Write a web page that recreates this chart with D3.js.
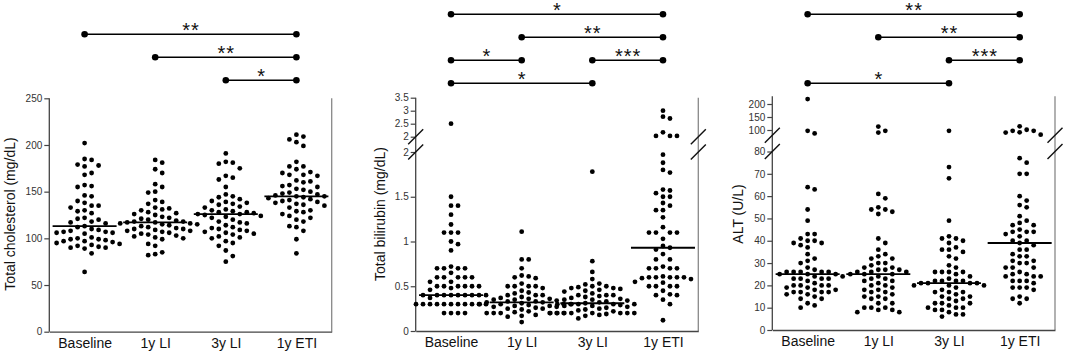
<!DOCTYPE html>
<html>
<head>
<meta charset="utf-8">
<script src="https://cdn.jsdelivr.net/npm/d3@7"></script>
<style>
  body { margin: 0; background: #fff; }
  svg { display: block; font-family: "Liberation Sans", Arial, sans-serif; }
</style>
</head>
<body>
<svg id="drawing_region"></svg>
<script>
// categories shared by all three panels
const categories = ["Baseline", "1y LI", "3y LI", "1y ETI"];

// Total cholesterol (mg/dL)
const cholBaseline = [202,185,184,179,178,177,170,168,157,156,155,146,145,140,138,135,135,133,130,129,127,122,121,120,118,117,116,113,112,110,109,108,107,107,106,106,105,101,100,99,99,98,97,97,96,95,94,93,92,91,90,90,89,84,64];
const cholLI1 = [184,181,174,170,158,155,150,149,141,139,137,133,132,131,130,128,127,126,125,123,122,121,120,119,118,118,117,117,116,116,115,115,114,113,112,111,110,110,109,108,108,107,106,105,104,103,102,101,100,99,94,92,85,83,82];
const cholLI3 = [191,182,181,180,175,167,165,163,155,147,145,144,142,140,139,138,137,136,134,133,131,130,129,128,128,127,126,126,125,124,123,122,120,118,117,116,114,112,111,110,109,108,107,106,105,104,102,101,100,97,95,92,87,81,75];
const cholETI = [211,209,206,203,199,182,177,177,174,171,170,168,168,167,162,161,160,157,156,155,153,152,150,149,148,147,146,145,145,144,143,142,141,140,139,138,137,136,135,133,130,129,128,126,124,122,120,118,113,112,108,99,84];
const cholMedians = [113, 117, 126, 145];
const cholTicks = [0, 50, 100, 150, 200, 250];
const cholBrackets = [
  ["Baseline", "1y ETI", "**", 0],
  ["1y LI", "1y ETI", "**", 1],
  ["3y LI", "1y ETI", "*", 2]
];

// Total bilirubin (mg/dL)
const biliBaseline = [2.5,1.5,1.4,1.4,1.3,1.19,1.1,1.1,1.1,1.0,0.97,0.9,0.72,0.7,0.7,0.7,0.7,0.65,0.6,0.6,0.6,0.6,0.6,0.55,0.55,0.5,0.5,0.5,0.5,0.5,0.5,0.48,0.46,0.4,0.4,0.4,0.4,0.4,0.4,0.4,0.4,0.4,0.37,0.3,0.3,0.3,0.3,0.3,0.3,0.3,0.3,0.3,0.3,0.3,0.2,0.2,0.2,0.2];
const biliLI1 = [1.11,0.8,0.8,0.7,0.62,0.61,0.6,0.59,0.53,0.5,0.5,0.5,0.5,0.48,0.45,0.43,0.42,0.4,0.4,0.4,0.38,0.37,0.36,0.36,0.35,0.35,0.34,0.33,0.33,0.32,0.32,0.31,0.3,0.3,0.3,0.3,0.29,0.28,0.28,0.27,0.27,0.26,0.25,0.25,0.24,0.22,0.21,0.2,0.2,0.2,0.2,0.2,0.2,0.18,0.17,0.16,0.1];
const biliLI3 = [1.78,0.78,0.66,0.58,0.53,0.52,0.5,0.5,0.49,0.48,0.48,0.47,0.46,0.45,0.44,0.42,0.4,0.4,0.4,0.39,0.38,0.37,0.36,0.35,0.35,0.34,0.33,0.32,0.31,0.3,0.3,0.3,0.3,0.3,0.29,0.28,0.28,0.27,0.26,0.25,0.24,0.23,0.22,0.2,0.2,0.2,0.2,0.2,0.2,0.2,0.2,0.19,0.18,0.17,0.14];
const biliETI = [3.0,2.77,2.7,2.17,2.03,2.03,2.03,1.97,1.88,1.8,1.77,1.58,1.57,1.54,1.5,1.5,1.43,1.4,1.35,1.35,1.27,1.16,1.1,1.1,1.1,1.1,1.03,0.95,0.93,0.91,0.86,0.8,0.8,0.72,0.7,0.7,0.7,0.7,0.61,0.6,0.6,0.6,0.6,0.6,0.59,0.58,0.55,0.54,0.5,0.5,0.5,0.5,0.45,0.41,0.4,0.4,0.35,0.3,0.12];
const biliMedians = [0.40, 0.32, 0.31, 0.93];
const biliLowerTicks = [0, 0.5, 1, 1.5, 2];
const biliUpperTicks = [2, 2.5, 3, 3.5];
const biliBrackets = [
  ["Baseline", "1y ETI", "*", 0],
  ["1y LI", "1y ETI", "**", 1],
  ["Baseline", "1y LI", "*", 2],
  ["3y LI", "1y ETI", "***", 2],
  ["Baseline", "3y LI", "*", 3]
];

// ALT (U/L)
const altBaseline = [219,97,87,64,63,54,49,43,43,41,40,40,39,39,38,37,34,32,31,30,28,27,26,26,26,26,26,25,25,25,24,24,23,23,23,23,22,21,20,20,20,20,19,19,18,18,17,17,17,17,16,16,15,14,14,12,11,10];
const altLI1 = [113,97,90,61,59,55,54,54,53,52,41,39,36,34,33,32,32,30,30,29,28,28,27,27,27,26,26,26,25,25,25,24,23,23,22,22,21,20,20,19,18,18,17,17,16,15,15,14,14,12,12,10,10,10,9,9,8,8];
const altLI3 = [97,73,68,49,42,41,41,40,39,37,36,36,35,33,32,29,28,26,26,26,26,25,24,23,22,22,22,22,21,21,21,21,20,20,20,19,18,17,17,17,16,15,15,14,14,13,12,12,12,11,10,10,10,9,9,8,7,7,6];
const altETI = [114,101,97,97,91,90,82,77,75,70,70,60,58,56,55,51,49,48,47,47,45,44,44,44,43,42,40,40,39,38,36,36,34,33,33,31,31,30,30,28,28,28,26,25,25,24,24,24,22,22,22,21,19,19,19,18,15,14,14,12];
const altMedians = [25, 25, 21, 39];
const altLowerTicks = [0, 10, 20, 30, 40, 50, 60, 70, 80];
const altUpperTicks = [100, 150, 200];
const altBrackets = [
  ["Baseline", "1y ETI", "**", 0],
  ["1y LI", "1y ETI", "**", 1],
  ["3y LI", "1y ETI", "***", 2],
  ["Baseline", "3y LI", "*", 3]
];

const panels = [
  { left: 49.3, right: 331.7, bottom: 331.7, labelX: 15, dotGap: 6.6,
    ylabel: "Total cholesterol (mg/dL)",
    groups: [cholBaseline, cholLI1, cholLI3, cholETI], medians: cholMedians,
    segments: [{ domain: [0, 250], range: [331.7, 98.3], ticks: cholTicks }],
    brackets: cholBrackets, bracketTop: 34.3 },
  { left: 415.7, right: 698.3, bottom: 331, labelX: 384.5, dotGap: 5.6,
    ylabel: "Total bilirubin (mg/dL)",
    groups: [biliBaseline, biliLI1, biliLI3, biliETI], medians: biliMedians,
    segments: [{ domain: [0, 2], range: [331, 152], ticks: biliLowerTicks },
               { domain: [2, 3.5], range: [136.7, 97.7], ticks: biliUpperTicks }],
    brackets: biliBrackets, bracketTop: 14.3 },
  { left: 772.3, right: 1055, bottom: 330, labelX: 743, dotGap: 5.8,
    ylabel: "ALT (U/L)",
    groups: [altBaseline, altLI1, altLI3, altETI], medians: altMedians,
    segments: [{ domain: [0, 80], range: [330, 151.5], ticks: altLowerTicks },
               { domain: [80, 230], range: [135.2, 96.2], ticks: altUpperTicks }],
    brackets: altBrackets, bracketTop: 14.3 }
];

const svg = d3.select('#drawing_region')
    .attr('width', 1065)
    .attr('height', 353);

const dotStep = 7;     // horizontal spacing of swarm columns
const bracketGap = 23;

// simple column swarm: each dot goes to the nearest column with room
function swarm(values, ypos, gap) {
    const pts = values.map(v => ({ v: v, y: ypos(v) }))
        .sort((a, b) => a.y - b.y);
    const cols = new Map();
    pts.forEach(p => {
        for (let i = 0; ; i++) {
            const k = i === 0 ? 0 : (i % 2 ? Math.ceil(i / 2) : -i / 2);
            const ys = cols.get(k) || [];
            if (ys.every(y => Math.abs(y - p.y) >= gap)) {
                ys.push(p.y);
                cols.set(k, ys);
                p.k = k;
                break;
            }
        }
    });
    return pts;
}

panels.forEach(p => {
    const g = svg.append('g');

    const xscale = d3.scalePoint()
        .domain(categories)
        .range([p.left, p.right])
        .padding(0.5);

    const segs = p.segments.map(s => Object.assign({}, s, {
        scale: d3.scaleLinear().domain(s.domain).range(s.range)
    }));
    const lower = segs[0];
    const upper = segs[1];
    const ypos = v => (upper && v > lower.domain[1]) ? upper.scale(v) : lower.scale(v);
    const top = segs[segs.length - 1].range[1];

    // y axes (ticks and labels only)
    segs.forEach(s => {
        g.append('g')
            .attr('transform', `translate(${p.left},0)`)
            .call(d3.axisLeft(s.scale)
                .tickValues(s.ticks)
                .tickFormat(d3.format('~g'))
                .tickSize(5)
                .tickPadding(2))
            .call(a => a.select('.domain').remove())
            .call(a => a.selectAll('line').attr('stroke', '#444').attr('stroke-width', 1.2))
            .call(a => a.selectAll('text')
                .attr('fill', '#333')
                .style('font-size', '10px')
                .style('font-family', '"Liberation Sans", Arial, sans-serif'));
    });

    // left + right frame lines
    g.append('line')
        .attr('x1', p.left).attr('x2', p.left)
        .attr('y1', top).attr('y2', p.bottom)
        .attr('stroke', '#444').attr('stroke-width', 1.3);
    g.append('line')
        .attr('x1', p.right).attr('x2', p.right)
        .attr('y1', top).attr('y2', p.bottom)
        .attr('stroke', '#888').attr('stroke-width', 1.3);

    // x axis
    g.append('g')
        .attr('transform', `translate(0,${p.bottom})`)
        .call(d3.axisBottom(xscale).tickSize(0).tickPadding(6))
        .call(a => a.select('.domain').attr('stroke', '#444').attr('stroke-width', 1.3))
        .call(a => a.selectAll('text')
            .attr('fill', '#111')
            .style('font-size', '14px')
            .style('font-family', '"Liberation Sans", Arial, sans-serif'));

    // axis break slashes
    if (upper) {
        [p.left, p.right].forEach(ax => {
            [lower.range[1], upper.range[0]].forEach(yy => {
                g.append('line')
                    .attr('x1', ax - 7.5).attr('y1', yy + 7.5)
                    .attr('x2', ax + 7.5).attr('y2', yy - 7.5)
                    .attr('stroke', '#111').attr('stroke-width', 1.4);
            });
        });
    }

    // y label
    g.append('text')
        .attr('transform', `translate(${p.labelX},214) rotate(-90)`)
        .attr('text-anchor', 'middle')
        .style('font-size', '14px')
        .attr('fill', '#111')
        .text(p.ylabel);

    // dots
    p.groups.forEach((vals, i) => {
        const cx = xscale(categories[i]);
        g.append('g').selectAll('circle')
            .data(swarm(vals, ypos, p.dotGap))
            .join('circle')
            .attr('cx', d => cx + d.k * dotStep)
            .attr('cy', d => d.y)
            .attr('r', 2.4)
            .attr('fill', '#000');
    });

    // medians
    g.append('g').selectAll('line')
        .data(p.medians)
        .join('line')
        .attr('x1', (d, i) => xscale(categories[i]) - 32)
        .attr('x2', (d, i) => xscale(categories[i]) + 32)
        .attr('y1', d => ypos(d))
        .attr('y2', d => ypos(d))
        .attr('stroke', '#000')
        .attr('stroke-width', 1.8);

    // significance brackets
    const bg = g.append('g');
    p.brackets.forEach(b => {
        const x1 = xscale(b[0]), x2 = xscale(b[1]);
        const yy = p.bracketTop + b[3] * bracketGap;
        bg.append('line')
            .attr('x1', x1).attr('x2', x2)
            .attr('y1', yy).attr('y2', yy)
            .attr('stroke', '#000').attr('stroke-width', 1.6);
        [x1, x2].forEach(xx => {
            bg.append('circle')
                .attr('cx', xx).attr('cy', yy)
                .attr('r', 3.3).attr('fill', '#000');
        });
        bg.append('text')
            .attr('x', (x1 + x2) / 2 + 0.5)
            .attr('y', yy + 2.5)
            .attr('text-anchor', 'middle')
            .style('font-size', '20px')
            .style('letter-spacing', '1px')
            .attr('fill', '#111')
            .text(b[2]);
    });
});
</script>
</body>
</html>
